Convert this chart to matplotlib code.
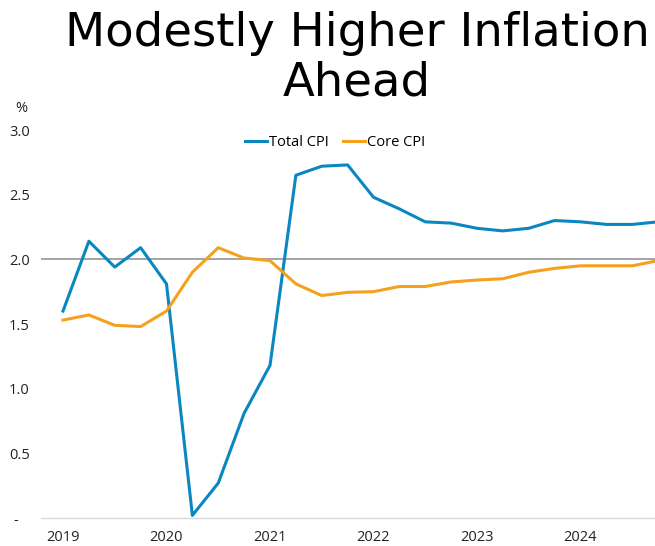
import numpy as np
import matplotlib
matplotlib.use("Agg")
import matplotlib.pyplot as plt

# quarterly, 2019Q1 .. 2024Q4
quarters = 2019 + 0.25 * np.arange(24)
total_cpi = [1.60, 2.14, 1.94, 2.09, 1.81, 0.02, 0.27, 0.81, 1.18, 2.65, 2.72, 2.73,
             2.48, 2.39, 2.29, 2.28, 2.24, 2.22, 2.24, 2.30, 2.29, 2.27, 2.27, 2.29]
core_cpi = [1.53, 1.57, 1.49, 1.48, 1.60, 1.90, 2.09, 2.01, 1.99, 1.81, 1.72, 1.745,
            1.75, 1.79, 1.79, 1.825, 1.84, 1.85, 1.90, 1.93, 1.95, 1.95, 1.95, 1.99]
year_ticks = [2019, 2020, 2021, 2022, 2023, 2024]
y_ticks = [0, 0.5, 1.0, 1.5, 2.0, 2.5, 3.0]
y_labels = ['-   ', '0.5', '1.0', '1.5', '2.0', '2.5', '3.0']

blue = '#0a86c0'
orange = '#f5a11e'

plt.rcParams['font.family'] = ['Open Sans', 'DejaVu Sans']

fig = plt.figure(figsize=(6.55, 5.46), dpi=100)
ax = fig.add_axes([41/655, 1 - 518/546, 1 - 41/655, (518 - 130)/546])

ax.axhline(2.0, color='#8c8c8c', lw=1.1, zorder=1)
ax.plot(quarters, total_cpi, color=blue, lw=2.2, label='Total CPI', zorder=3)
ax.plot(quarters, core_cpi, color=orange, lw=2.2, label='Core CPI', zorder=3)

# 2019 sits at x=63px, one year is ~103.5px, axes spans 41..655px
ax.set_xlim(2019 - 22/103.5, 2019 + 592/103.5)
ax.set_ylim(0, 3.0)
ax.set_xticks(year_ticks)
ax.set_xticklabels([str(y) for y in year_ticks])
ax.set_yticks(y_ticks)
ax.set_yticklabels(y_labels)
ax.tick_params(axis='both', length=0, labelsize=10.5, colors='#222222')
ax.tick_params(axis='x', pad=8.5)
ax.tick_params(axis='y', pad=8)

for s in ['top', 'right', 'left']:
    ax.spines[s].set_visible(False)
ax.spines['bottom'].set_color('#d9d9d9')
ax.spines['bottom'].set_linewidth(1.0)

ax.legend(loc='upper center', bbox_to_anchor=(335/655, 1 - 122/546), bbox_transform=fig.transFigure,
          ncol=2, frameon=False, fontsize=10.5, handlelength=1.5, handletextpad=0.15,
          columnspacing=1.0)

fig.text(21/655, 1 - 108/546, '%', ha='center', va='center', fontsize=10.5, color='#222222')
fig.text(357/655, 1 - 33/546, 'Modestly Higher Inflation', ha='center', va='center',
         fontsize=33.5, family='DejaVu Sans', color='black')
fig.text(357/655, 1 - 83/546, 'Ahead', ha='center', va='center',
         fontsize=33.5, family='DejaVu Sans', color='black')

fig.savefig('out.png', dpi=100)
